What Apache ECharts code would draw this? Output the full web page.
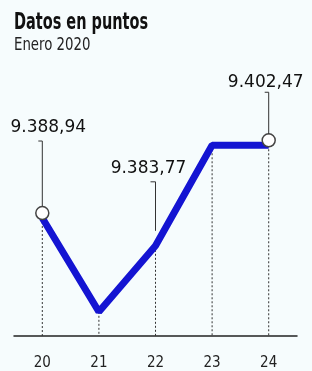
<!DOCTYPE html>
<html>
<head>
<meta charset="utf-8">
<script src="https://cdn.jsdelivr.net/npm/echarts@6/dist/echarts.min.js"></script>
<style>
html,body{margin:0;padding:0;background:#f6fcfd;}
#c{width:312px;height:371px;}
</style>
</head>
<body>
<div id="c"></div>
<script>
// ---- data ----
const titleText = 'Datos en puntos';
const subtitleText = 'Enero 2020';
const categories = ['20', '21', '22', '23', '24'];
const values = [9388.94, 9371.5, 9383.77, 9402.47, 9402.47];
const labeledIdx = [0, 2, 4];
const circleIdx = [0, 4];

// ---- styling ----
const NARROW = "'DejaVu Sans Condensed','Liberation Sans Narrow',sans-serif";
const Y_MIN = 9367, Y_MAX = 9420;
// per-label leader geometry (pixels relative to the point): [labelDx, labelDy, leaderTop, leaderBottom, tickDx]
const leaderStyle = {
  0: [6, -90, -77, -12, -4],
  2: [-7, -77, -64, -15, -5],
  4: [-3, -63, -53, -11, -4]
};

function fmt(v) {
  const parts = v.toFixed(2).split('.');
  const intPart = parts[0].replace(/\B(?=(\d{3})+(?!\d))/g, '.');
  return intPart + ',' + parts[1];
}

const chart = echarts.init(document.getElementById('c'), null, {renderer: 'canvas'});
const option = {
  backgroundColor: '#f6fcfd',
  animation: false,
  graphic: [
    {
      type: 'text', x: 14, y: 23.5, scaleX: 0.70, silent: true,
      style: {text: titleText, x: 0, y: 0, align: 'left', verticalAlign: 'middle',
              fontFamily: NARROW, fontWeight: 'bold', fontSize: 23, fill: '#111'}
    },
    {
      type: 'text', x: 14, y: 45.5, scaleX: 0.87, silent: true,
      style: {text: subtitleText, x: 0, y: 0, align: 'left', verticalAlign: 'middle',
              fontFamily: NARROW, fontWeight: 'normal', fontSize: 17, fill: '#222'}
    }
  ],
  grid: {left: 14, right: 15, top: 51, bottom: 34},
  xAxis: {
    type: 'category',
    data: categories,
    boundaryGap: true,
    axisLine: {lineStyle: {color: '#222', width: 1.5}},
    axisTick: {show: false},
    axisLabel: {fontFamily: NARROW, fontSize: 15, color: '#222', margin: 20}
  },
  yAxis: {
    type: 'value', min: Y_MIN, max: Y_MAX, show: false,
    splitLine: {show: false}
  },
  series: [
    {
      type: 'custom',
      z: 1,
      silent: true,
      data: values.map((v, i) => [i, v]),
      renderItem: function (params, api) {
        const p = api.coord([api.value(0), api.value(1)]);
        const b = api.coord([api.value(0), Y_MIN]);
        return {
          type: 'line',
          shape: {x1: p[0], y1: p[1], x2: p[0], y2: b[1]},
          style: {stroke: '#333', lineWidth: 1, lineDash: [2, 2]}
        };
      }
    },
    {
      type: 'line',
      z: 3,
      data: values.map((v, i) => ({
        value: v,
        symbol: circleIdx.indexOf(i) >= 0 ? 'circle' : 'none'
      })),
      symbolSize: 13,
      symbolOffset: [0, -5],
      itemStyle: {color: '#ffffff', borderColor: '#444', borderWidth: 1.5},
      lineStyle: {color: '#1414d2', width: 7},
      silent: true
    },
    {
      type: 'custom',
      z: 4,
      silent: true,
      data: labeledIdx.map(i => [i, values[i]]),
      renderItem: function (params, api) {
        const idx = api.value(0);
        const p = api.coord([idx, api.value(1)]);
        const s = leaderStyle[idx];
        return {
          type: 'group',
          children: [
            {
              type: 'polyline',
              shape: {points: [[p[0] + s[4], p[1] + s[2]], [p[0], p[1] + s[2]], [p[0], p[1] + s[3]]]},
              style: {stroke: '#333', lineWidth: 1, fill: null}
            },
            {
              type: 'text',
              style: {
                text: fmt(api.value(1)),
                x: p[0] + s[0], y: p[1] + s[1],
                align: 'center', verticalAlign: 'middle',
                fontFamily: "'DejaVu Sans',sans-serif", fontSize: 17, fill: '#111'
              }
            }
          ]
        };
      }
    }
  ]
};
chart.setOption(option);
</script>
</body>
</html>
